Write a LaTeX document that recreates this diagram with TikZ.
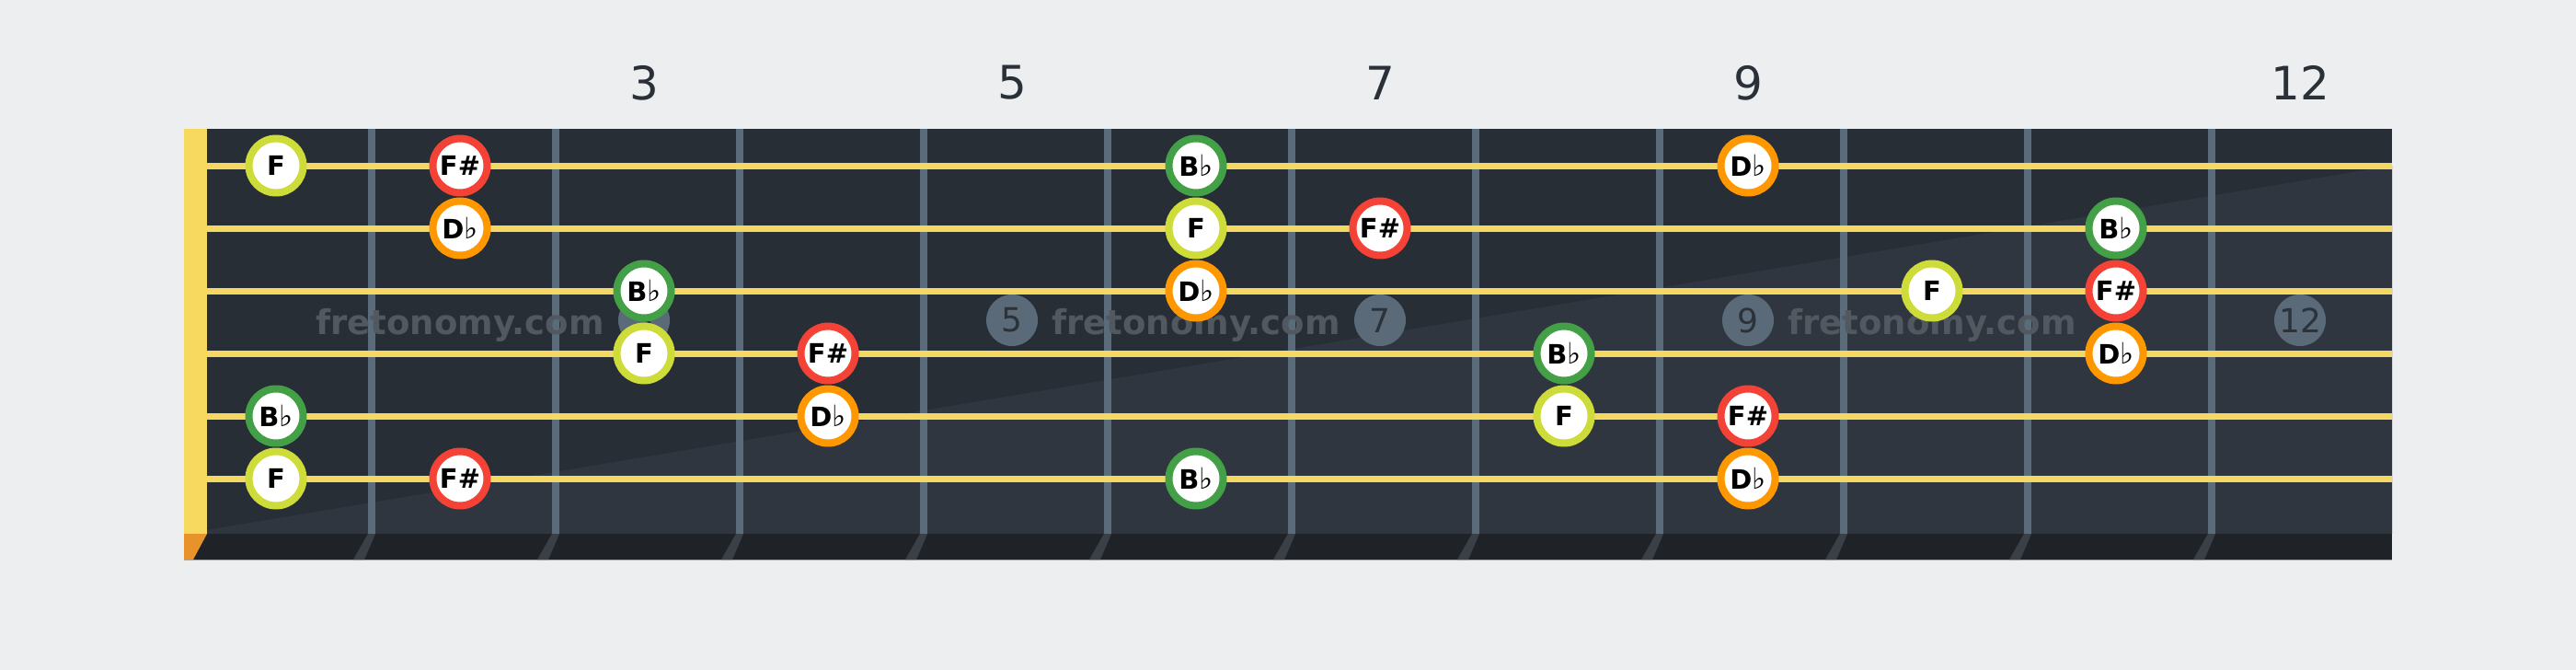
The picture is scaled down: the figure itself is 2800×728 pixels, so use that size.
\documentclass[tikz,border=0pt]{standalone}
\usepackage{fontspec}
\setmainfont{DejaVu Sans}
\definecolor{bg}{HTML}{ECEEF0}
\definecolor{board}{HTML}{282E36}
\definecolor{boardlight}{HTML}{30363F}
\definecolor{strip}{HTML}{1F2327}
\definecolor{fretc}{HTML}{5A6B7A}
\definecolor{fretshade}{HTML}{3B4047}
\definecolor{strc}{HTML}{F5D862}
\definecolor{nutc}{HTML}{F7D95F}
\definecolor{nutshade}{HTML}{E8922A}
\definecolor{wm}{HTML}{52585F}
\definecolor{markc}{HTML}{5A6A78}
\definecolor{marktext}{HTML}{2B3239}
\definecolor{numtext}{HTML}{2A3038}
\definecolor{cF}{HTML}{CDDC39}
\definecolor{cFs}{HTML}{F44336}
\definecolor{cBb}{HTML}{43A047}
\definecolor{cDb}{HTML}{FF9800}
\tikzset{
  notedot/.style={circle, draw=#1, line width=8pt, fill=white, minimum size=59pt, inner sep=0pt,
    font=\fontsize{29}{29}\selectfont\bfseries, text=black},
  markdot/.style={circle, fill=markc, minimum size=56pt, inner sep=0pt,
    font=\fontsize{36}{36}\selectfont, text=marktext},
  fretnum/.style={font=\fontsize{50}{50}\selectfont, text=numtext, inner sep=0pt},
  watermark/.style={font=\fontsize{37}{37}\selectfont\bfseries, text=wm, inner sep=0pt, anchor=base},
  stringline/.style={strc, line width=7pt},
}
\newcommand{\flt}{{\mdseries\fontsize{32}{32}\selectfont\char"266D}}
\begin{document}
\begin{tikzpicture}[x=1pt,y=-1pt]
\fill[bg] (0,0) rectangle (2800,728);
\useasboundingbox (0,0) rectangle (2800,728);
% board
\fill[board] (225,140) rectangle (2600,580);
\fill[boardlight] (200,580) -- (2600,180) -- (2600,580) -- cycle;
\fill[strip] (200,580) rectangle (2600,608);
\draw[color=gray!70, line width=1.5pt] (200,608.5) -- (2600,608.5);
% nut
\fill[nutc] (200,140) rectangle (225,580);
\fill[nutshade] (200,580) -- (225,580) -- (210,608) -- (200,608) -- cycle;
% frets
\foreach \n in {1,...,11}{
  \pgfmathsetmacro{\fx}{204+200*\n}
  \fill[fretc] (\fx-4,140) rectangle (\fx+4,580);
  \fill[fretshade] (\fx-4,580) -- (\fx+4,580) -- (\fx-8,608) -- (\fx-20,608) -- cycle;
}
% fret numbers
\node[fretnum] (num3) at (700,90) {3};
\node[fretnum] (num5) at (1100,90) {5};
\node[fretnum] (num7) at (1500,90) {7};
\node[fretnum] (num9) at (1900,90) {9};
\node[fretnum] (num12) at (2500,90) {12};
% watermark
\node[watermark] (wm1) at (500,363) {fretonomy.com};
\node[watermark] (wm2) at (1300,363) {fretonomy.com};
\node[watermark] (wm3) at (2100,363) {fretonomy.com};
% position markers
\node[markdot] (m3) at (700,348) {3};
\node[markdot] (m5) at (1100,348) {5};
\node[markdot] (m7) at (1500,348) {7};
\node[markdot] (m9) at (1900,348) {9};
\node[markdot] (m12) at (2500,348) {12};
% strings
\foreach \s in {1,...,6}{
  \coordinate (sa\s) at (225,{180+68*(\s-1)});
  \coordinate (sb\s) at (2600,{180+68*(\s-1)});
  \draw[stringline] (sa\s) -- (sb\s);
}
% notes: string/fret/colour/label
\foreach \s/\f/\c/\t in {
  1/1/cF/F, 1/2/cFs/F\#, 1/6/cBb/B\flt, 1/9/cDb/D\flt,
  2/2/cDb/D\flt, 2/6/cF/F, 2/7/cFs/F\#, 2/11/cBb/B\flt,
  3/3/cBb/B\flt, 3/6/cDb/D\flt, 3/10/cF/F, 3/11/cFs/F\#,
  4/3/cF/F, 4/4/cFs/F\#, 4/8/cBb/B\flt, 4/11/cDb/D\flt,
  5/1/cBb/B\flt, 5/4/cDb/D\flt, 5/8/cF/F, 5/9/cFs/F\#,
  6/1/cF/F, 6/2/cFs/F\#, 6/6/cBb/B\flt, 6/9/cDb/D\flt}{
  \node[notedot=\c] (s\s f\f) at ({100+200*\f},{180+68*(\s-1)}) {\t};
}
\end{tikzpicture}
\end{document}
